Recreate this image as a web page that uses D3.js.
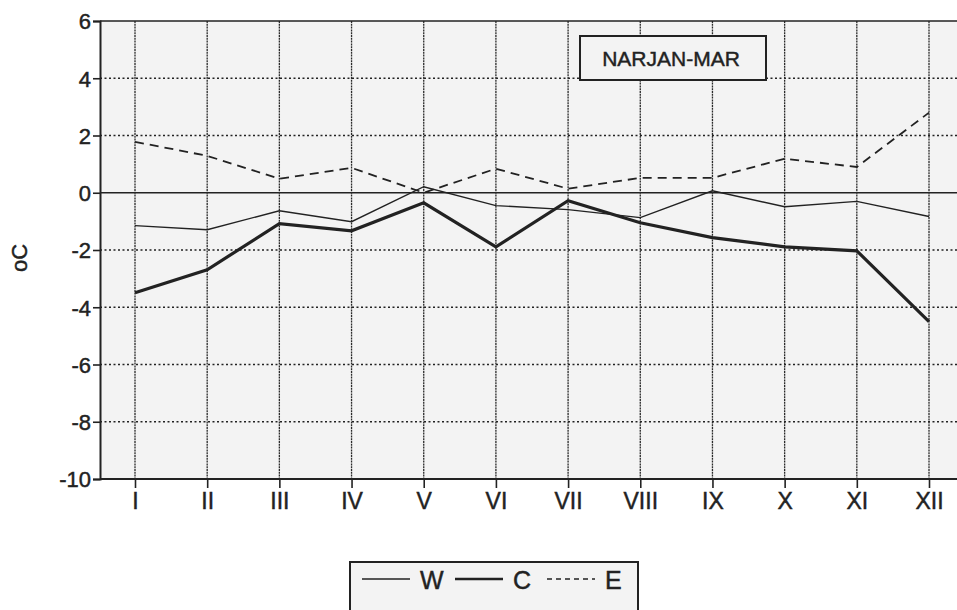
<!DOCTYPE html>
<html><head><meta charset="utf-8">
<script src="https://cdn.jsdelivr.net/npm/d3@7"></script>
<style>body{margin:0;background:#fff;}svg{display:block;}text{font-family:"Liberation Sans",Arial,sans-serif;fill:#222;stroke:#222;stroke-width:0.45px;}</style>
</head><body>
<svg id="c" width="957" height="610"></svg>
<script>
const months = ["I","II","III","IV","V","VI","VII","VIII","IX","X","XI","XII"];
const W = [-1.15,-1.29,-0.63,-1.01,0.21,-0.45,-0.59,-0.87,0.07,-0.49,-0.30,-0.83];
const C = [-3.49,-2.69,-1.08,-1.33,-0.35,-1.89,-0.28,-1.05,-1.57,-1.89,-2.03,-4.50];
const E = [1.78,1.29,0.49,0.87,0.00,0.84,0.14,0.52,0.52,1.19,0.90,2.80];
const yTicks = [-10,-8,-6,-4,-2,0,2,4,6];
const title = "NARJAN-MAR";
const yLabel = "oC";
const seriesNames = ["W","C","E"];

const svg = d3.select("#c");
const L=100, R=957, T=21, B=479;
const x = d3.scalePoint().domain(months).range([135,929]);
const y = d3.scaleLinear().domain([-10,6]).range([B,T]);
const ink = "#222";

svg.append("rect").attr("x",L).attr("y",T).attr("width",R-L).attr("height",B-T).attr("fill","#f3f3f3");

// horizontal grid
svg.append("g").selectAll("line").data(yTicks.filter(d=>d>-10&&d<6)).join("line")
  .attr("x1",L).attr("x2",R).attr("y1",d=>y(d)).attr("y2",d=>y(d))
  .attr("stroke",ink).attr("stroke-width",1.4)
  .attr("stroke-dasharray",d=>d===0?null:"2,2.5");
// vertical grid
svg.append("g").selectAll("line").data(months).join("line")
  .attr("x1",d=>x(d)).attr("x2",d=>x(d)).attr("y1",T).attr("y2",B)
  .attr("stroke","#2a2a2a").attr("stroke-width",1.3).attr("stroke-dasharray","2,0.8");
// top border
svg.append("line").attr("x1",L).attr("x2",R).attr("y1",T).attr("y2",T).attr("stroke",ink).attr("stroke-width",1.6);

// axes
const yAxis = d3.axisLeft(y).tickValues(yTicks).tickSize(7).tickPadding(2).tickFormat(d=>String(d));
const gy = svg.append("g").attr("transform",`translate(${L},0)`).call(yAxis);
gy.select(".domain").attr("stroke",ink).attr("stroke-width",2);
gy.selectAll(".tick line").attr("stroke",ink).attr("stroke-width",1.6);
gy.selectAll(".tick text").style("font-size","22px").attr("fill",ink).attr("dy","0.36em");

const xAxis = d3.axisBottom(x).tickSize(9).tickPadding(3);
const gx = svg.append("g").attr("transform",`translate(0,${B})`).call(xAxis);
gx.select(".domain").attr("d",`M${L},0H${R}`).attr("stroke",ink).attr("stroke-width",2);
gx.selectAll(".tick line").attr("stroke",ink).attr("stroke-width",1.6);
gx.selectAll(".tick text").style("font-size","23px").attr("fill",ink).attr("dy","0.8em");

svg.append("text").attr("transform","translate(27,258) rotate(-90)").attr("text-anchor","middle")
  .style("font-size","22px").text(yLabel);

// lines
const line = d3.line().x((d,i)=>x(months[i])).y(d=>y(d));
svg.append("path").datum(E).attr("d",line).attr("fill","none").attr("stroke",ink).attr("stroke-width",1.8).attr("stroke-dasharray","9,6");
svg.append("path").datum(W).attr("d",line).attr("fill","none").attr("stroke",ink).attr("stroke-width",1.4);
svg.append("path").datum(C).attr("d",line).attr("fill","none").attr("stroke",ink).attr("stroke-width",3.2);

// title box
svg.append("rect").attr("x",580).attr("y",36).attr("width",186).attr("height",44).attr("fill","#f3f3f3").attr("stroke",ink).attr("stroke-width",2);
svg.append("text").attr("x",671).attr("y",66).attr("text-anchor","middle").style("font-size","21px").text(title);

// legend
svg.append("rect").attr("x",350).attr("y",562).attr("width",288).attr("height",60).attr("fill","#f3f3f3").attr("stroke",ink).attr("stroke-width",2);
const legX = [362,455,547];
const dashes = [null,null,"5,4"];
const widths = [1.4,2.6,1.4];
seriesNames.forEach((n,i)=>{
  svg.append("line").attr("x1",legX[i]).attr("x2",legX[i]+48).attr("y1",579).attr("y2",579)
    .attr("stroke",ink).attr("stroke-width",widths[i]).attr("stroke-dasharray",dashes[i]);
  svg.append("text").attr("x",legX[i]+58).attr("y",589).style("font-size","25px").text(n);
});
</script>
</body></html>
